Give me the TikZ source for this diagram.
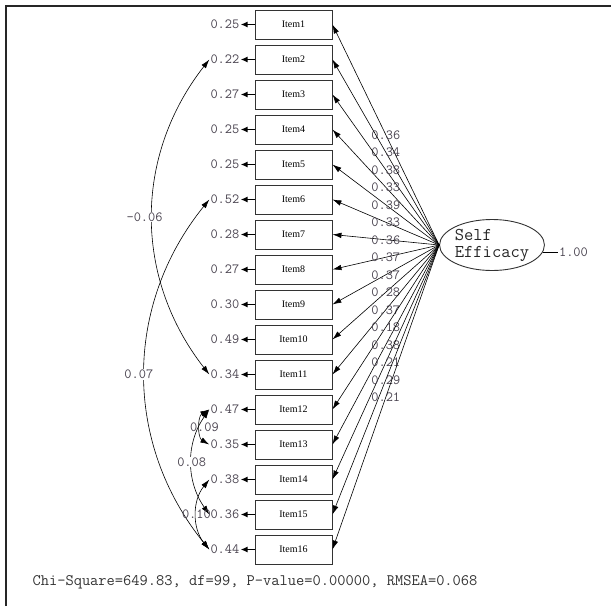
\documentclass[tikz,border=0pt]{standalone}
\usepackage{fontspec}
\usetikzlibrary{arrows.meta, positioning, shapes.geometric}
\newfontfamily\lismono{Latin Modern Mono}
\newfontfamily\lisserif{Liberation Serif}
\definecolor{numgray}{HTML}{4a4450}

\begin{document}
\begin{tikzpicture}[x=1pt, y=1pt,
  item/.style={rectangle, draw=black!80, line width=0.9pt, minimum width=77pt,
               minimum height=29pt, inner sep=0pt, font=\lisserif\fontsize{10}{10}\selectfont},
  num/.style={inner sep=1pt, text=numgray, font=\lismono\fontsize{14}{14}\selectfont},
  cval/.style={num, fill=white},
  arr/.style={-{Latex[length=9pt, width=5.5pt]}, line width=0.6pt},
  earr/.style={-{Latex[length=7pt, width=6pt]}, line width=1.5pt},
  carr/.style={{Latex[length=9pt, width=5.5pt]}-{Latex[length=9pt, width=5.5pt]}, line width=0.6pt}]
  \useasboundingbox (0,0) rectangle (611,-606);
  \draw[line width=2.5pt, black!85] (6,-606) -- (6,-6) -- (611,-6);

  \node[ellipse, draw=black!80, line width=0.9pt, minimum width=100pt, minimum height=51pt,
        inner sep=0pt, align=left, text=black!85, font=\lismono\fontsize{18}{17}\selectfont]
        (eff) at (492,-245) {Self\\Efficacy};
  \node[num, right=15pt of eff.-8, anchor=west] (effvar) {1.00};
  \draw[line width=0.6pt] (eff.-8) -- (effvar);

  \foreach \i/\e/\l in {1/0.25/0.36, 2/0.22/0.34, 3/0.27/0.38, 4/0.25/0.33,
      5/0.25/0.39, 6/0.52/0.33, 7/0.28/0.36, 8/0.27/0.37, 9/0.30/0.37,
      10/0.49/0.28, 11/0.34/0.37, 12/0.47/0.18, 13/0.35/0.38, 14/0.38/0.21,
      15/0.36/0.29, 16/0.44/0.21} {
    \node[item] (item\i) at (293.5, {-24.5-35*(\i-1)}) {Item\i};
    \node[num, left=14pt of item\i] (err\i) {\e};
    \draw[earr] (item\i.west) -- (err\i.east);
    \draw[arr] (eff.west) -- node[num, midway] {\l} (item\i.east);
  }

  \draw[carr] (err2.west) to[bend right=38] node[cval, midway, xshift=-8pt] {-0.06} (err11.west);
  \draw[carr] (err6.west) to[bend right=39] node[cval, midway, xshift=-6pt] {0.07} (err16.west);
  \draw[carr] (err12.west) to[bend right=60] node[num, midway, xshift=4pt] {0.09} (err13.west);
  \draw[carr] (err12.west) to[bend right=35] node[cval, midway] {0.08} (err15.west);
  \draw[carr] (err14.west) to[bend right=39] node[num, midway] {0.10} (err16.west);

  \node[num, font=\lismono\fontsize{16}{16}\selectfont, text=black!80] (fit) at (255,-582)
    {Chi-Square=649.83, df=99, P-value=0.00000, RMSEA=0.068};
\end{tikzpicture}
\end{document}
